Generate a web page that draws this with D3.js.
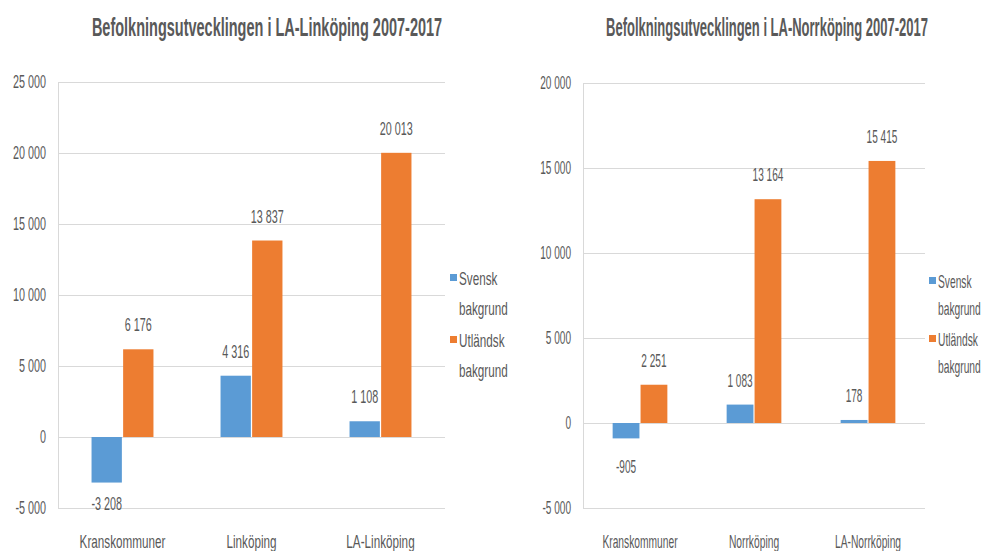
<!DOCTYPE html>
<meta charset="utf-8">
<head>
  <style>
    body { margin: 0; background: #fff; }
    text { font-family: "Liberation Sans", Arial, sans-serif; fill: #595959; }
    .title { font-weight: bold; font-size: 25px; }
    .lbl { font-size: 18px; }
    .grid line { stroke: #d9d9d9; stroke-width: 1; }
  </style>
  <script src="https://cdn.jsdelivr.net/npm/d3@7"></script>
</head>
<body>
<script>

// data
var series = ["Svensk bakgrund", "Utländsk bakgrund"];
var seriesColors = ["#5b9bd5", "#ed7d31"];

var linkCategories = ["Kranskommuner", "Linköping", "LA-Linköping"];
var linkSvensk = [-3208, 4316, 1108];
var linkUtlandsk = [6176, 13837, 20013];
var linkTicks = [-5000, 0, 5000, 10000, 15000, 20000, 25000];

var norrCategories = ["Kranskommuner", "Norrköping", "LA-Norrköping"];
var norrSvensk = [-905, 1083, 178];
var norrUtlandsk = [2251, 13164, 15415];
var norrTicks = [-5000, 0, 5000, 10000, 15000, 20000];

var width = 982, height = 551;

var fmt = d3.formatLocale({decimal: ",", thousands: " ", grouping: [3], currency: ["", ""], minus: "-"}).format(",d");

var svg = d3.select("body").append("svg")
    .attr("width", width)
    .attr("height", height);

// the original picture is squeezed horizontally, so text gets a scaleX
function putText(g, x, y, str, cls, anchor, sx) {
  return g.append("text")
    .attr("class", cls)
    .attr("text-anchor", anchor || "middle")
    .attr("transform", "translate(" + x + "," + y + ") scale(" + sx + ",1)")
    .text(str);
}

function drawChart(opt) {
  var g = svg.append("g");

  var x = d3.scaleBand()
      .domain(opt.categories)
      .range([opt.left, opt.right])
      .paddingInner(0.52)
      .paddingOuter(0.26);

  var xs = d3.scaleBand()
      .domain(series)
      .range([0, x.bandwidth()])
      .paddingInner(0.04);

  var y = d3.scaleLinear()
      .domain(d3.extent(opt.ticks))
      .range([opt.bottom, opt.top]);

  // gridlines
  g.append("g").attr("class", "grid")
    .selectAll("line")
    .data(opt.ticks)
    .enter().append("line")
      .attr("x1", opt.left).attr("x2", opt.right)
      .attr("y1", function(d) { return Math.round(y(d)) + 0.5; })
      .attr("y2", function(d) { return Math.round(y(d)) + 0.5; });

  g.append("line")
    .attr("x1", opt.left + 0.5).attr("x2", opt.left + 0.5)
    .attr("y1", y(opt.ticks[opt.ticks.length - 1])).attr("y2", y(opt.ticks[0]))
    .attr("stroke", "#d9d9d9");

  // y tick labels
  opt.ticks.forEach(function(t) {
    putText(g, opt.left - 12, y(t) + 6, fmt(t), "lbl", "end", opt.numScale);
  });

  // bars
  var rows = opt.categories.map(function(c, i) {
    return {cat: c, vals: [opt.svensk[i], opt.utlandsk[i]]};
  });

  var grp = g.selectAll(".grp")
    .data(rows)
    .enter().append("g")
      .attr("class", "grp")
      .attr("transform", function(d) { return "translate(" + x(d.cat) + ",0)"; });

  grp.selectAll("rect")
    .data(function(d) { return d.vals.map(function(v, i) { return {s: series[i], v: v, i: i}; }); })
    .enter().append("rect")
      .attr("x", function(d) { return xs(d.s); })
      .attr("width", xs.bandwidth())
      .attr("y", function(d) { return y(Math.max(0, d.v)); })
      .attr("height", function(d) { return Math.abs(y(d.v) - y(0)); })
      .attr("fill", function(d) { return seriesColors[d.i]; });

  // value labels
  rows.forEach(function(r) {
    r.vals.forEach(function(v, i) {
      var cx = x(r.cat) + xs(series[i]) + xs.bandwidth() / 2;
      var ly = v >= 0 ? y(v) - 18 : y(v) + opt.negOffset;
      putText(g, cx, ly, fmt(v), "lbl", "middle", opt.numScale);
    });
  });

  // category labels
  opt.categories.forEach(function(c) {
    putText(g, x(c) + x.bandwidth() / 2, 548, c, "lbl", "middle", opt.wordScale);
  });

  // title
  putText(g, opt.titleX, 36, opt.title, "title", "middle", opt.titleScale);

  // legend
  series.forEach(function(s, i) {
    var ly = opt.legendY + i * opt.legendStep;
    g.append("rect")
      .attr("x", opt.legendX).attr("y", ly - 5)
      .attr("width", 7).attr("height", 7)
      .attr("fill", seriesColors[i]);
    s.split(" ").forEach(function(w, j) {
      putText(g, opt.legendX + 9, ly + 6 + j * opt.legendLine, w, "lbl", "start", opt.wordScale);
    });
  });
}

drawChart({
  title: "Befolkningsutvecklingen i LA-Linköping 2007-2017",
  titleX: 267,
  categories: linkCategories, svensk: linkSvensk, utlandsk: linkUtlandsk, ticks: linkTicks,
  left: 58, right: 445, top: 82, bottom: 508,
  negOffset: 27,
  wordScale: 0.65, numScale: 0.6, titleScale: 0.58,
  legendX: 450, legendY: 279, legendStep: 62, legendLine: 30
});

drawChart({
  title: "Befolkningsutvecklingen i LA-Norrköping 2007-2017",
  titleX: 767,
  categories: norrCategories, svensk: norrSvensk, utlandsk: norrUtlandsk, ticks: norrTicks,
  left: 583, right: 925, top: 83, bottom: 508,
  negOffset: 35,
  wordScale: 0.57, numScale: 0.56, titleScale: 0.52,
  legendX: 929, legendY: 282, legendStep: 58, legendLine: 27
});

</script>
</body>
